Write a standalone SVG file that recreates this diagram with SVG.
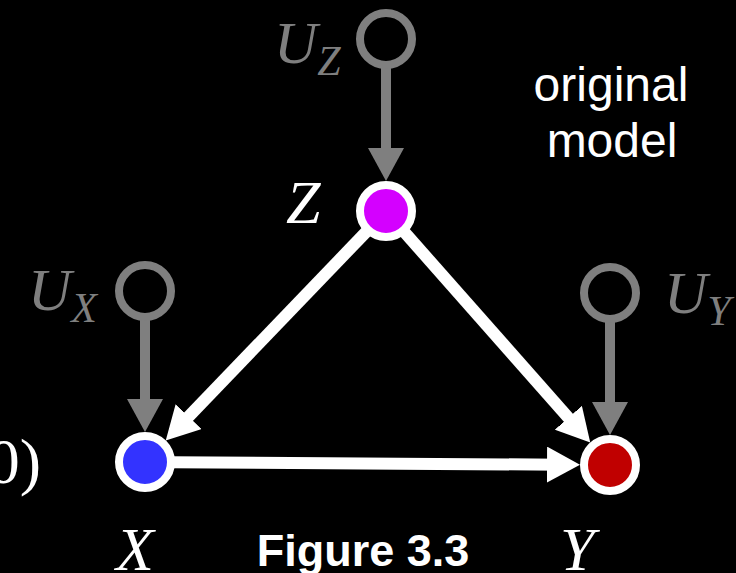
<svg xmlns="http://www.w3.org/2000/svg" width="736" height="573" viewBox="0 0 736 573">
  <style>
    .math { font-family: "Liberation Serif", "DejaVu Serif", serif; font-style: italic; }
    .gray { fill: #7f7f7f; }
    .white { fill: #ffffff; }
    .sans { font-family: "Liberation Sans", Arial, sans-serif; fill: #ffffff; }
    .edge { stroke: #ffffff; stroke-width: 12; fill: none; }
    .uedge { stroke: #7f7f7f; stroke-width: 10; fill: none; }
    .node { stroke: #ffffff; stroke-width: 8; }
    .unode { stroke: #7f7f7f; stroke-width: 8; fill: none; }
  </style>
  <defs>
    <marker id="wa" markerUnits="userSpaceOnUse" markerWidth="34" markerHeight="36" refX="13" refY="18" orient="auto">
      <path d="M0,0 L33,18 L0,36 z" fill="#ffffff"/>
    </marker>
    <marker id="ga" markerUnits="userSpaceOnUse" markerWidth="34" markerHeight="36" refX="13" refY="18" orient="auto">
      <path d="M0,0 L33,18 L0,36 z" fill="#7f7f7f"/>
    </marker>
  </defs>
  <rect x="0" y="0" width="736" height="573" fill="#000000"/>

  <g id="connectors">
    <line class="uedge" x1="386" y1="65" x2="386" y2="161" marker-end="url(#ga)"/>
    <line class="uedge" x1="145" y1="317" x2="145" y2="412" marker-end="url(#ga)"/>
    <line class="uedge" x1="610" y1="319" x2="610" y2="415" marker-end="url(#ga)"/>
    <line class="edge" x1="368" y1="230" x2="179.6" y2="426" marker-end="url(#wa)"/>
    <line class="edge" x1="403" y1="230.5" x2="577" y2="427.5" marker-end="url(#wa)"/>
    <line class="edge" x1="171" y1="462.2" x2="560" y2="464.7" marker-end="url(#wa)"/>
  </g>

  <g id="UZ">
    <circle class="unode" cx="386" cy="39" r="26"/>
    <text class="math gray" x="274" y="63" font-size="60">U<tspan font-size="42" dy="12">Z</tspan></text>
  </g>
  <g id="UX">
    <circle class="unode" cx="145" cy="291" r="26"/>
    <text class="math gray" x="28" y="310" font-size="60">U<tspan font-size="42" dy="12">X</tspan></text>
  </g>
  <g id="UY">
    <circle class="unode" cx="610" cy="293" r="26"/>
    <text class="math gray" x="664" y="313" font-size="60">U<tspan font-size="42" dy="12">Y</tspan></text>
  </g>
  <g id="Z">
    <circle class="node" cx="386" cy="211" r="26" fill="#d400ff"/>
    <text class="math white" x="286" y="223" font-size="62">Z</text>
  </g>
  <g id="X">
    <circle class="node" cx="145" cy="462" r="26" fill="#3333ff"/>
    <text class="math white" x="116" y="570" font-size="62">X</text>
  </g>
  <g id="Y">
    <circle class="node" cx="610" cy="465" r="26" fill="#c00000"/>
    <text class="math white" x="560" y="570" font-size="62">Y</text>
  </g>

  <text x="41" y="483" font-family="'Liberation Serif', serif" font-size="64" fill="#ffffff" text-anchor="end">0)</text>
  <text class="sans" x="611" y="101" font-size="48" text-anchor="middle">original</text>
  <text class="sans" x="612" y="157" font-size="48" text-anchor="middle">model</text>
  <text class="sans" x="363" y="566" font-size="45" font-weight="bold" text-anchor="middle">Figure 3.3</text>
</svg>
